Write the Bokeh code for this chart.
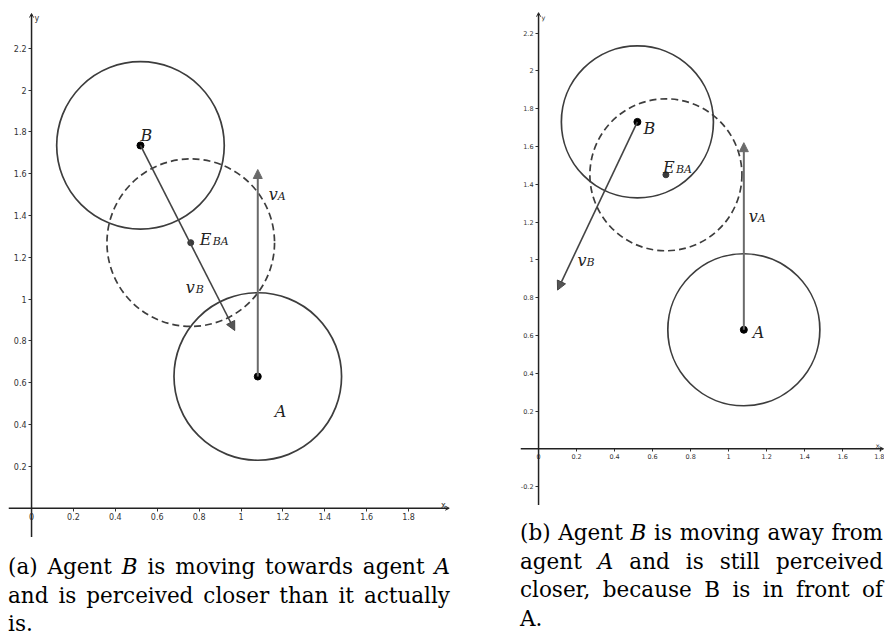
from bokeh.plotting import figure
from bokeh.models import (ColumnDataSource, Arrow, NormalHead, OpenHead, LinearAxis,
                          FixedTicker, NumeralTickFormatter, Spacer, Div)
from bokeh.layouts import row, column
from bokeh.core.properties import value
from bokeh.embed import file_html
from bokeh.resources import INLINE

# ---------------- data ----------------
agent_radius = 0.4

# panel (a): B moving towards A
a_A = [1.08, 0.63]
a_B = [0.52, 1.735]
a_E = [0.76, 1.27]
a_vA_tip = [1.08, 1.62]
a_vB_tip = [0.97, 0.85]

# panel (b): B moving away from A
b_A = [1.08, 0.63]
b_B = [0.52, 1.73]
b_E = [0.67, 1.45]
b_vA_tip = [1.08, 1.62]
b_vB_tip = [0.10, 0.84]

x_ticks = [0, 0.2, 0.4, 0.6, 0.8, 1, 1.2, 1.4, 1.6, 1.8]
a_y_ticks = [0.2, 0.4, 0.6, 0.8, 1, 1.2, 1.4, 1.6, 1.8, 2, 2.2]
b_y_ticks = [-0.2, 0.2, 0.4, 0.6, 0.8, 1, 1.2, 1.4, 1.6, 1.8, 2, 2.2]

cap_a_lines = ["(a) Agent <i>B</i> is moving towards agent <i>A</i>",
               "and is perceived closer than it actually",
               "is."]
cap_b_lines = ["(b) Agent <i>B</i> is moving away from",
               "agent <i>A</i> and is still perceived",
               "closer, because B is in front of",
               "A."]

CIRCLE_COL = "#3d3d3d"
SERIF = value("DejaVu Serif")


def make_panel(A, B, E, vA_tip, vB_tip, xr, yr, x_axis_end, y_axis_end, y_ticks,
               width, height, tick_px, offs):
    p = figure(width=width, height=height, x_range=xr, y_range=yr,
               output_backend="svg", toolbar_location=None, min_border=0,
               x_axis_type=None, y_axis_type=None, outline_line_color=None,
               background_fill_color="white", border_fill_color="white")
    p.grid.visible = False

    # axes through the origin
    for loc, ticks in (("below", x_ticks), ("left", y_ticks)):
        ax = LinearAxis(fixed_location=0, ticker=FixedTicker(ticks=ticks, minor_ticks=[]),
                        formatter=NumeralTickFormatter(format="0.[0]"),
                        axis_line_color=None, major_tick_out=3, major_tick_in=0,
                        major_tick_line_color="#333333", minor_tick_line_color=None,
                        major_label_standoff=2,
                        major_label_text_font="DejaVu Sans",
                        major_label_text_font_size=tick_px,
                        major_label_text_color="#333333")
        p.add_layout(ax, loc)

    axis_src = ColumnDataSource(dict(xs=[xr[0], 0], ys=[0, yr[0]],
                                     xe=[x_axis_end, 0], ye=[0, y_axis_end]))
    p.add_layout(Arrow(source=axis_src, x_start="xs", y_start="ys", x_end="xe", y_end="ye",
                       line_color="#222222", line_width=1.5,
                       end=OpenHead(size=4, line_width=1, line_color="#222222")))
    p.text(x=[x_axis_end], y=[0], text=["x"], x_offset=-6, y_offset=-3,
           text_align="center", text_baseline="alphabetic",
           text_font=value("DejaVu Sans"), text_font_size=tick_px, text_color="#333333")
    p.text(x=[0], y=[y_axis_end], text=["y"], x_offset=3, y_offset=5,
           text_align="left", text_baseline="middle",
           text_font=value("DejaVu Sans"), text_font_size=tick_px, text_color="#333333")

    # agents' discs
    p.circle(x=[A[0], B[0]], y=[A[1], B[1]], radius=agent_radius,
             fill_color=None, line_color=CIRCLE_COL, line_width=1.7)
    # perceived position disc
    p.circle(x=[E[0]], y=[E[1]], radius=agent_radius, fill_color=None,
             line_color=CIRCLE_COL, line_width=1.7, line_dash="7 4")

    # velocity arrows
    vsrc_A = ColumnDataSource(dict(xs=[A[0]], ys=[A[1]], xe=[vA_tip[0]], ye=[vA_tip[1]]))
    vsrc_B = ColumnDataSource(dict(xs=[B[0]], ys=[B[1]], xe=[vB_tip[0]], ye=[vB_tip[1]]))
    p.add_layout(Arrow(source=vsrc_A, x_start="xs", y_start="ys", x_end="xe", y_end="ye",
                       line_color="#6a6a6a", line_width=2,
                       end=NormalHead(size=9, fill_color="#6a6a6a", line_color="#6a6a6a",
                                      line_width=1)))
    p.add_layout(Arrow(source=vsrc_B, x_start="xs", y_start="ys", x_end="xe", y_end="ye",
                       line_color="#444444", line_width=1.6,
                       end=NormalHead(size=9, fill_color="#555555", line_color="#444444",
                                      line_width=1)))

    # points
    p.scatter(x=[A[0], B[0]], y=[A[1], B[1]], size=7, color="black")
    p.scatter(x=[E[0]], y=[E[1]], size=6, color="#3a3a3a")

    # labels (main letter + subscript)
    anchors = {"A": A, "B": B, "E": E, "vA": vA_tip, "vB": vB_tip}
    for key, main, sub, dx, dy, sdx, sdy in offs:
        ax_, ay_ = anchors[key]
        p.text(x=[ax_], y=[ay_], text=[main], x_offset=dx, y_offset=dy,
               text_align="left", text_baseline="alphabetic", text_font=SERIF,
               text_font_style="italic", text_font_size="16px", text_color="#222222")
        if sub:
            p.text(x=[ax_], y=[ay_], text=[sub], x_offset=sdx, y_offset=sdy,
                   text_align="left", text_baseline="alphabetic", text_font=SERIF,
                   text_font_style="italic", text_font_size="11px", text_color="#222222")
    return p


offs_a = [("B", "B", "", 0, -10, 0, 0),
          ("A", "A", "", 17, 35, 0, 0),
          ("E", "E", "BA", 9, -3, 22, -1),
          ("vA", "v", "A", 11, 25, 20, 27),
          ("vB", "v", "B", -49, -43, -39, -41)]
offs_b = [("B", "B", "", 6, 7, 0, 0),
          ("A", "A", "", 9, 3, 0, 0),
          ("E", "E", "BA", -3, -7, 10, -5),
          ("vA", "v", "A", 5, 74, 14, 76),
          ("vB", "v", "B", 20, -30, 29, -28)]

pa = make_panel(a_A, a_B, a_E, a_vA_tip, a_vB_tip, (-0.11, 2.0), (-0.14, 2.39),
                1.994, 2.366, a_y_ticks, 442, 529, "8px", offs_a)
pb = make_panel(b_A, b_B, b_E, b_vA_tip, b_vB_tip, (-0.095, 1.82), (-0.30, 2.33),
                1.815, 2.308, b_y_ticks, 364, 497, "6.5px", offs_b)


def caption_html(lines, width):
    parts = []
    for i, ln in enumerate(lines):
        last = "left" if i == len(lines) - 1 else "justify"
        parts.append(f'<div style="width:{width}px;text-align:justify;'
                     f'text-align-last:{last};">{ln}</div>')
    return (f'<div style="width:{width}px;font-family:\'DejaVu Serif\',serif;font-size:21.5px;'
            'line-height:28.5px;color:#000;margin:0;padding:0;">' + "".join(parts) + "</div>")


cap_a = Div(text=caption_html(cap_a_lines, 442), width=442, height=86, margin=(0, 0, 0, 0))
cap_b = Div(text=caption_html(cap_b_lines, 363), width=363, height=114, margin=(0, 0, 0, 0))

col_a = column(pa, Spacer(width=10, height=16, margin=(0, 0, 0, 0)), cap_a, spacing=0)
col_b = column(pb, Spacer(width=10, height=14, margin=(0, 0, 0, 0)), cap_b, spacing=0)
layout = row(col_a, Spacer(width=70, height=10, margin=(0, 0, 0, 0)), col_b, spacing=0,
             margin=(8, 0, 0, 8))

open("out.html", "w").write(file_html(layout, INLINE))
